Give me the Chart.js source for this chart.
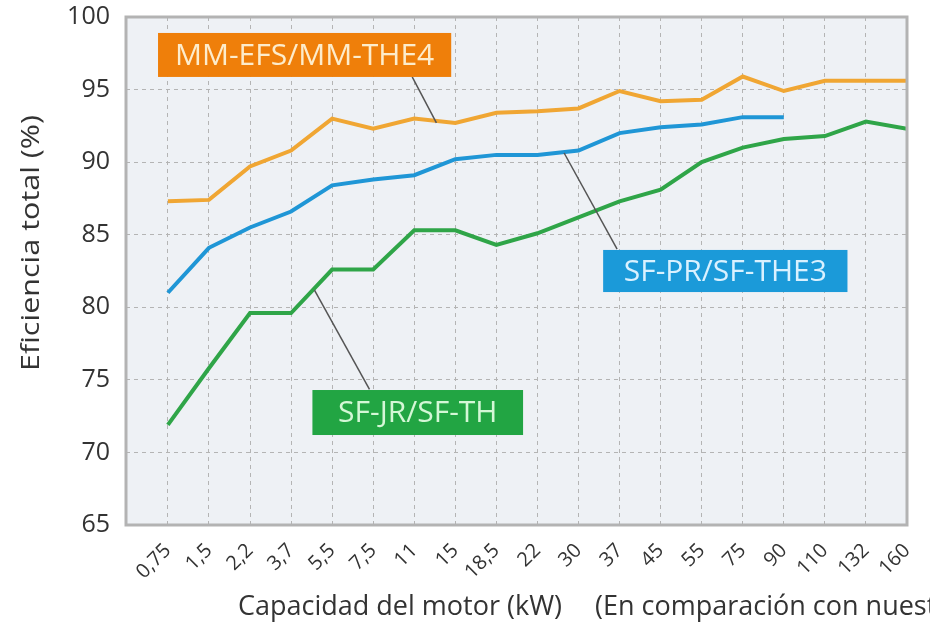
<!DOCTYPE html>
<html>
<head>
<meta charset="utf-8">
<script src="https://cdn.jsdelivr.net/npm/chart.js@4.4.1/dist/chart.umd.min.js"></script>
<style>
    body { margin: 0; background: #fff; }
    #wrap { width: 930px; height: 635px; }
</style>
</head>
<body>
<div id="wrap"><canvas id="effChart" width="930" height="635"></canvas></div>
<script>
// capacidad del motor (kW)
const capacities = ['0,75', '1,5', '2,2', '3,7', '5,5', '7,5', '11', '15', '18,5', '22',
    '30', '37', '45', '55', '75', '90', '110', '132', '160'];

// eficiencia total (%)
const mmEfs = [87.3, 87.4, 89.7, 90.8, 93.0, 92.3, 93.0, 92.7, 93.4, 93.5,
    93.7, 94.9, 94.2, 94.3, 95.9, 94.9, 95.6, 95.6, 95.6];
const sfPr = [81.0, 84.1, 85.5, 86.6, 88.4, 88.8, 89.1, 90.2, 90.5, 90.5,
    90.8, 92.0, 92.4, 92.6, 93.1, 93.1];
const sfJr = [71.9, 75.8, 79.6, 79.6, 82.6, 82.6, 85.3, 85.3, 84.3, 85.1,
    86.2, 87.3, 88.1, 90.0, 91.0, 91.6, 91.8, 92.8, 92.3];

const yTicks = [65, 70, 75, 80, 85, 90, 95, 100];

// callouts, anchored in data units
const callouts = [
    { text: 'MM-EFS/MM-THE4', box: [-0.24, 98.9, 6.9, 95.87], bg: '#ef7f0a', fg: '#fdeccb',
      lead: [[5.95, 95.87], [6.54, 92.7]] },
    { text: 'SF-PR/SF-THE3', box: [10.6, 83.95, 16.55, 81.05], bg: '#1b9ad9', fg: '#d9f1ff',
      lead: [[9.65, 90.63], [10.94, 84.0]] },
    { text: 'SF-JR/SF-TH', box: [3.52, 74.3, 8.65, 71.2], bg: '#22a543', fg: '#d4f7d6',
      lead: [[3.57, 81.19], [4.91, 74.35]] }
];

function toPoints(arr) {
    return arr.map((v, i) => ({ x: i, y: v }));
}

const framePlugin = {
    id: 'frame',
    beforeDraw(chart) {
        const a = chart.chartArea, ctx = chart.ctx;
        ctx.save();
        ctx.fillStyle = '#eef1f5';
        ctx.fillRect(a.left, a.top, a.right - a.left, a.bottom - a.top);
        ctx.restore();
    },
    afterDraw(chart) {
        const a = chart.chartArea, ctx = chart.ctx;
        const xs = chart.scales.x, ys = chart.scales.y;
        ctx.save();
        // frame
        ctx.strokeStyle = '#b3b3b3';
        ctx.lineWidth = 3;
        ctx.strokeRect(a.left, a.top, a.right - a.left, a.bottom - a.top);

        // callouts
        callouts.forEach(c => {
            ctx.strokeStyle = '#555';
            ctx.lineWidth = 1.5;
            ctx.beginPath();
            ctx.moveTo(xs.getPixelForValue(c.lead[0][0]), ys.getPixelForValue(c.lead[0][1]));
            ctx.lineTo(xs.getPixelForValue(c.lead[1][0]), ys.getPixelForValue(c.lead[1][1]));
            ctx.stroke();
            const x1 = xs.getPixelForValue(c.box[0]), y1 = ys.getPixelForValue(c.box[1]);
            const x2 = xs.getPixelForValue(c.box[2]), y2 = ys.getPixelForValue(c.box[3]);
            ctx.fillStyle = c.bg;
            ctx.fillRect(x1, y1, x2 - x1, y2 - y1);
            ctx.fillStyle = c.fg;
            ctx.font = '30px "Open Sans"';
            ctx.textAlign = 'center';
            ctx.textBaseline = 'middle';
            ctx.fillText(c.text, (x1 + x2) / 2, (y1 + y2) / 2 + 1);
        });

        // axis titles
        ctx.fillStyle = '#333';
        ctx.font = '27px "Open Sans"';
        ctx.textAlign = 'left';
        ctx.textBaseline = 'middle';
        ctx.fillText('Capacidad del motor (kW)', 238, 607);
        ctx.fillText('(En comparación con nuestros productos anteriores)', 595, 607);

        ctx.font = '25px "Open Sans"';
        ctx.translate(32, 243);
        ctx.rotate(-Math.PI / 2);
        ctx.scale(1.22, 1);
        ctx.textAlign = 'center';
        ctx.fillText('Eficiencia total (%)', 0, 0);
        ctx.restore();
    }
};

new Chart(document.getElementById('effChart'), {
    type: 'line',
    data: {
        datasets: [{
            label: 'MM-EFS/MM-THE4',
            data: toPoints(mmEfs),
            borderColor: '#f0a633',
            borderWidth: 4
        }, {
            label: 'SF-PR/SF-THE3',
            data: toPoints(sfPr),
            borderColor: '#1f96d6',
            borderWidth: 4
        }, {
            label: 'SF-JR/SF-TH',
            data: toPoints(sfJr),
            borderColor: '#2fa548',
            borderWidth: 4
        }]
    },
    options: {
        responsive: false,
        animation: false,
        elements: {
            point: { radius: 0 },
            line: { tension: 0 }
        },
        layout: {
            padding: { left: 0, right: 23, top: 17, bottom: 0 }
        },
        plugins: {
            legend: { display: false },
            tooltip: { enabled: false }
        },
        scales: {
            x: {
                type: 'linear',
                min: -1.02,
                max: 18,
                afterBuildTicks: scale => {
                    scale.ticks = capacities.map((c, i) => ({ value: i }));
                },
                afterFit: scale => {
                    scale.height = 110;
                    scale.paddingLeft = 0;
                    scale.paddingRight = 0;
                },
                grid: {
                    color: '#b4b4b4',
                    drawTicks: false
                },
                border: { display: false, dash: [4, 4] },
                ticks: {
                    autoSkip: false,
                    minRotation: 45,
                    maxRotation: 45,
                    padding: 14,
                    color: '#333',
                    font: { family: 'Open Sans', size: 20 },
                    callback: v => capacities[v]
                }
            },
            y: {
                min: 65,
                max: 100,
                afterBuildTicks: scale => {
                    scale.ticks = yTicks.map(v => ({ value: v }));
                },
                afterFit: scale => {
                    scale.width = 126;
                    scale.paddingTop = 0;
                    scale.paddingBottom = 0;
                },
                grid: {
                    color: '#b4b4b4',
                    drawTicks: false
                },
                border: { display: false, dash: [4, 4] },
                ticks: {
                    padding: 16,
                    color: '#333',
                    font: { family: 'Open Sans', size: 25 }
                }
            }
        }
    },
    plugins: [framePlugin]
});
</script>
</body>
</html>
